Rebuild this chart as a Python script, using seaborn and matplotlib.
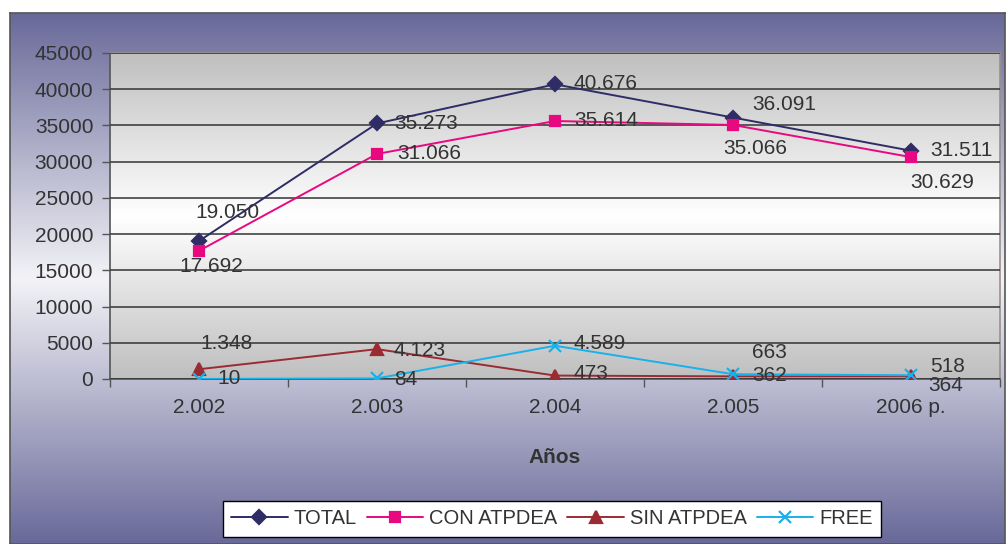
import matplotlib
matplotlib.use('Agg')
import matplotlib.pyplot as plt
from matplotlib.colors import LinearSegmentedColormap
import pandas as pd
import numpy as np
import seaborn as sns

# data
years = ['2.002', '2.003', '2.004', '2.005', '2006 p.']
total = [19050, 35273, 40676, 36091, 31511]
con_atpdea = [17692, 31066, 35614, 35066, 30629]
sin_atpdea = [1348, 4123, 473, 362, 364]
free = [10, 84, 4589, 663, 518]
series_names = ['TOTAL', 'CON ATPDEA', 'SIN ATPDEA', 'FREE']
y_ticks = list(range(0, 45001, 5000))

df = pd.DataFrame({'Año': years * 4,
                   'valor': total + con_atpdea + sin_atpdea + free,
                   'serie': np.repeat(series_names, len(years))})

colors = {'TOTAL': '#2e2d66', 'CON ATPDEA': '#e8087f', 'SIN ATPDEA': '#9b2b33', 'FREE': '#19b1ea'}
markers = {'TOTAL': 'D', 'CON ATPDEA': 's', 'SIN ATPDEA': '^', 'FREE': 'x'}
msizes = {'TOTAL': 7, 'CON ATPDEA': 7, 'SIN ATPDEA': 8, 'FREE': 8}

# label offsets in pixels (dx, dy, ha)
offsets = {
    'TOTAL': [(28, 28, 'center'), (17, 0, 'left'), (19, 1, 'left'), (19, 13, 'left'), (19, 0, 'left')],
    'CON ATPDEA': [(12, -16, 'center'), (20, 0, 'left'), (19, 0, 'left'), (22, -24, 'center'), (31, -25, 'center')],
    'SIN ATPDEA': [(27, 26, 'center'), (17, -1, 'left'), (19, 2, 'left'), (19, 1, 'left'), (17, -9, 'left')],
    'FREE': [(18, 0, 'left'), (17, -1, 'left'), (19, 2, 'left'), (19, 22, 'left'), (19, 9, 'left')],
}

sns.set_style('white')
plt.rcParams['font.family'] = ['Liberation Sans', 'DejaVu Sans']
txt = '#333333'

W, H = 1006, 544
fig = plt.figure(figsize=(W / 100, H / 100), dpi=100)
fig.patch.set_facecolor('white')

# outer frame with purple-white-purple gradient
bg = fig.add_axes([10 / W, 0, 995 / W, (H - 13) / H], zorder=-5)
purple = LinearSegmentedColormap.from_list('p', ['#69699a', '#f3f3f7', '#69699a'])
bg.imshow(np.linspace(0, 1, 256).reshape(-1, 1), cmap=purple, aspect='auto', extent=[0, 1, 0, 1])
bg.set_xticks([])
bg.set_yticks([])
for s in bg.spines.values():
    s.set_color('#555555')
    s.set_linewidth(1.2)

ax = fig.add_axes([110 / W, (H - 379) / H, 890 / W, 326 / H])
ax.patch.set_alpha(0)
gray = LinearSegmentedColormap.from_list('g', ['#bfbfbf', '#ffffff', '#bfbfbf'])
ax.imshow(np.linspace(0, 1, 256).reshape(-1, 1), cmap=gray, aspect='auto',
          extent=[0, 1, 0, 1], transform=ax.transAxes, zorder=0)

for name in series_names:
    sub = df[df.serie == name]
    sns.lineplot(data=sub, x='Año', y='valor', color=colors[name], marker=markers[name],
                 sort=False, markersize=msizes[name], linewidth=1.4, markeredgewidth=1.6,
                 markeredgecolor=colors[name], label=name, ax=ax, zorder=3)

for name, vals in zip(series_names, [total, con_atpdea, sin_atpdea, free]):
    for i, v in enumerate(vals):
        dx, dy, ha = offsets[name][i]
        lab = f'{v:,}'.replace(',', '.')
        ax.annotate(lab, (i, v), xytext=(dx, dy), textcoords='offset pixels',
                    ha=ha, va='center', fontsize=15, color=txt, zorder=4)

ax.set_xlim(-0.5, len(years) - 0.5)
ax.set_ylim(0, 45000)
ax.set_yticks(y_ticks)
ax.set_yticklabels([str(t) for t in y_ticks])
ax.set_xticks(range(len(years)))
ax.set_xticklabels(years)
ax.set_xticks(np.arange(-0.5, len(years), 1), minor=True)
ax.tick_params(axis='x', which='major', length=0, pad=14, labelsize=15, labelcolor=txt)
ax.tick_params(axis='x', which='minor', length=6, width=1, color='#555555', direction='out', bottom=True)
ax.tick_params(axis='y', length=6, width=1, color='#555555', direction='out', labelsize=15,
               labelcolor=txt, left=True, pad=6)
ax.yaxis.grid(True, color='#333333', linewidth=1.1)
ax.set_axisbelow(False)
for ln in ax.get_ygridlines():
    ln.set_zorder(1)
ax.set_xlabel('Años', fontsize=15, fontweight='bold', color=txt, labelpad=22)
ax.set_ylabel('')
for side in ['left', 'bottom']:
    ax.spines[side].set_color('#555555')
    ax.spines[side].set_linewidth(1.2)
for side in ['top', 'right']:
    ax.spines[side].set_color('#9a8f90')
    ax.spines[side].set_linewidth(1.2)

h, l = ax.get_legend_handles_labels()
ax.legend(h, l, loc='center', bbox_to_anchor=(552 / W, (H - 519) / H), bbox_transform=fig.transFigure,
          ncol=4, frameon=True, fancybox=False, edgecolor='black', framealpha=1,
          fontsize=14.5, handlelength=2.8, handletextpad=0.3, columnspacing=0.5,
          borderpad=0.4, labelcolor=txt)
ax.get_legend().get_frame().set_linewidth(1)

fig.savefig('out.png', dpi=100)
